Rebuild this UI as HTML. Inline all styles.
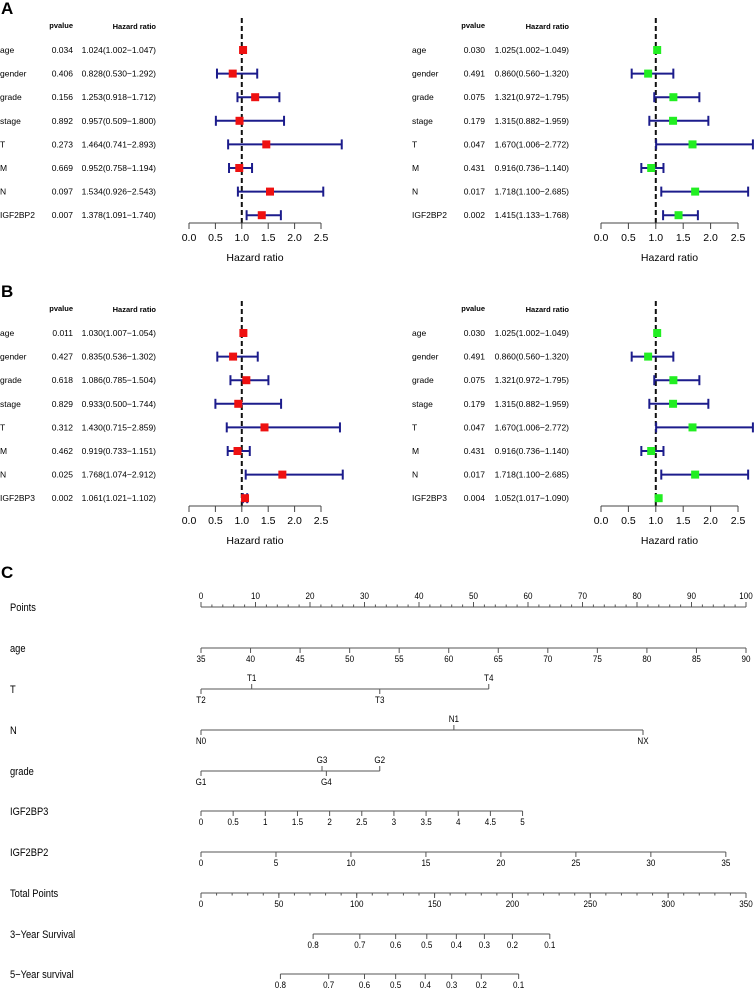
<!DOCTYPE html>
<html><head><meta charset="utf-8"><style>
body{margin:0;background:#fff;}
svg{display:block;font-family:"Liberation Sans",sans-serif;}
</style></head><body>
<svg id="fig" width="754" height="989" viewBox="0 0 754 989" xmlns="http://www.w3.org/2000/svg">
<text x="1" y="14" font-size="17" font-weight="bold">A</text>
<text x="1" y="297" font-size="17" font-weight="bold">B</text>
<text x="1" y="578" font-size="17" font-weight="bold">C</text>
<g id="forest"></g>
<g id="nomo"></g>
</svg>
<script>
const NS="http://www.w3.org/2000/svg";
function mk(p,tag,a){const e=document.createElementNS(NS,tag);for(const k in a)e.setAttribute(k,a[k]);p.appendChild(e);return e;}
function tx(p,x,y,s,fs,anchor,extra){const e=mk(p,"text",Object.assign({x:x,y:y,"font-size":fs,"text-anchor":anchor||"start"},extra||{}));e.textContent=s;return e;}

// ---- forest data ----
const varsA=["age","gender","grade","stage","T","M","N","IGF2BP2"];
const varsB=["age","gender","grade","stage","T","M","N","IGF2BP3"];
const pA1=["0.034","0.406","0.156","0.892","0.273","0.669","0.097","0.007"];
const hrA1=[1.024,0.828,1.253,0.957,1.464,0.952,1.534,1.378];
const loA1=[1.002,0.530,0.918,0.509,0.741,0.758,0.926,1.091];
const hiA1=[1.047,1.292,1.712,1.800,2.893,1.194,2.543,1.740];
const pA2=["0.030","0.491","0.075","0.179","0.047","0.431","0.017","0.002"];
const hrA2=[1.025,0.860,1.321,1.315,1.670,0.916,1.718,1.415];
const loA2=[1.002,0.560,0.972,0.882,1.006,0.736,1.100,1.133];
const hiA2=[1.049,1.320,1.795,1.959,2.772,1.140,2.685,1.768];
const pB1=["0.011","0.427","0.618","0.829","0.312","0.462","0.025","0.002"];
const hrB1=[1.030,0.835,1.086,0.933,1.430,0.919,1.768,1.061];
const loB1=[1.007,0.536,0.785,0.500,0.715,0.733,1.074,1.021];
const hiB1=[1.054,1.302,1.504,1.744,2.859,1.151,2.912,1.102];
const pB2=["0.030","0.491","0.075","0.179","0.047","0.431","0.017","0.004"];
const hrB2=[1.025,0.860,1.321,1.315,1.670,0.916,1.718,1.052];
const loB2=[1.002,0.560,0.972,0.882,1.006,0.736,1.100,1.017];
const hiB2=[1.049,1.320,1.795,1.959,2.772,1.140,2.685,1.090];
const hrTicks=[0,0.5,1,1.5,2,2.5];

function forest(name,vars,pv,hr,lo,hi,oy,o){
  const g=mk(document.getElementById("forest"),"g",{});
  
  
  const X=v=>o.x0+v*o.k;
  const Y=i=>oy+50+i*23.6;
  const fmt=v=>v.toFixed(3);
  let h=tx(g,o.pr,oy+28,"pvalue",7.5,"end",{"font-weight":"bold"});
  
  h=tx(g,o.hr,oy+29,"Hazard ratio",7.5,"end",{"font-weight":"bold"});
  
  const axY=oy+223;
  const d=mk(g,"line",{x1:X(1),x2:X(1),y1:oy+18,y2:axY,stroke:"#111","stroke-width":2,"stroke-dasharray":"5,3"});
  
  vars.forEach((v,i)=>{
    const y=Y(i);
    let t=tx(g,o.lx,y+3,v,8.5);
    
    t=tx(g,o.pr,y+3,pv[i],8.5,"end");
    
    t=tx(g,o.hr,y+3,fmt(hr[i])+"("+fmt(lo[i])+"\u2212"+fmt(hi[i])+")",8.5,"end");
    
    const eg=mk(g,"g",{stroke:"#1c1c8c","stroke-width":2});
    
    const xl=X(lo[i]),xh=Math.min(X(hi[i]),754);
    if(hi[i]-lo[i]>0.08){
      mk(eg,"line",{x1:xl,x2:xh,y1:y,y2:y});
      mk(eg,"line",{x1:xl,x2:xl,y1:y-5,y2:y+5});
      mk(eg,"line",{x1:xh,x2:xh,y1:y-5,y2:y+5});
    }
    const s=mk(g,"rect",{x:X(hr[i])-4,y:y-4,width:8,height:8,fill:o.col});
    
  });
  const ax=mk(g,"g",{});
  
  mk(ax,"line",{x1:X(0),x2:X(2.5),y1:axY,y2:axY,stroke:"#444","stroke-width":1});
  hrTicks.forEach(t=>{
    mk(ax,"line",{x1:X(t),x2:X(t),y1:axY,y2:axY+6,stroke:"#444"});
    const l=tx(ax,X(t),axY+18,t.toFixed(1),10.5,"middle");
    
  });
  const at=tx(g,X(1.25),axY+38,"Hazard ratio",10.5,"middle");
  
}
const L={x0:189,k:52.8,lx:0,pr:73,hr:156,col:"#ee1111"};
const R={x0:601,k:54.8,lx:412,pr:485,hr:569,col:"#22ee22"};
forest("forest-a-left",varsA,pA1,hrA1,loA1,hiA1,0,L);
forest("forest-a-right",varsA,pA2,hrA2,loA2,hiA2,0,R);
forest("forest-b-left",varsB,pB1,hrB1,loB1,hiB1,283,L);
forest("forest-b-right",varsB,pB2,hrB2,loB2,hiB2,283,R);

// ---- nomogram ----
const nomoRows=["Points","age","T","N","grade","IGF2BP3","IGF2BP2","Total Points","3\u2212Year Survival","5\u2212Year survival"];
const rowY=[607,648,689,730,771,811,852,893,934,974];
const ageVals=[35,40,45,50,55,60,65,70,75,80,85,90];
const igf3Vals=[0,0.5,1,1.5,2,2.5,3,3.5,4,4.5,5];
const igf2Vals=[0,5,10,15,20,25,30,35];
const totalVals=[0,50,100,150,200,250,300,350];
const tLevels=["T2","T1","T3","T4"], tPts=[0,9.3,32.8,52.8], tUp=[false,true,false,true];
const nLevels=["N0","N1","NX"], nPts=[0,46.4,81.1], nUp=[false,true,false];
const gLevels=["G1","G3","G4","G2"], gPts=[0,22.2,23,32.8], gUp=[false,true,false,true];
const surv=[0.8,0.7,0.6,0.5,0.4,0.3,0.2,0.1];
const surv3Tot=[72,102,125,145,164,182,200,224];
const surv5Tot=[51,82,105,125,144,161,180,204];
const AX0=201,AX1=746;
const P=v=>AX0+v/100*(AX1-AX0);
const TP=v=>AX0+v/350*(AX1-AX0);
const N=document.getElementById("nomo");
nomoRows.forEach((r,i)=>{
  const t=tx(N,10,rowY[i]+4,r,11,"start",{transform:"translate(10,0) scale(0.85,1) translate(-10,0)"});
  
});
function narrow(p,x,y,s,fs){return tx(p,x,y,s,fs,"middle",{transform:`translate(${x},0) scale(0.85,1) translate(${-x},0)`});}
function scale(name,y,vals,pos,labUp,minor){
  const g=mk(N,"g",{stroke:"#555"});
  
  mk(g,"line",{x1:pos(vals[0]),x2:pos(vals[vals.length-1]),y1:y,y2:y});
  if(minor)minor.forEach(v=>mk(g,"line",{x1:pos(v),x2:pos(v),y1:y,y2:labUp?y-2.5:y+2.5}));
  vals.forEach(v=>{
    mk(g,"line",{x1:pos(v),x2:pos(v),y1:y,y2:labUp?y-5:y+5});
    const t=narrow(N,pos(v),labUp?y-8:y+14,String(v),9.5);
    
  });
}
const ptsVals=[0,10,20,30,40,50,60,70,80,90,100];
const ptsMinor=[];for(let v=0;v<=100;v+=2)ptsMinor.push(v);
const totMinor=[];for(let v=0;v<=350;v+=10)totMinor.push(v);
scale("points-scale",rowY[0],ptsVals,P,true,ptsMinor);
scale("age-scale",rowY[1],ageVals,v=>P((v-35)/55*100),false);
scale("igf2bp3-scale",rowY[5],igf3Vals,v=>P(v/5*59),false);
scale("igf2bp2-scale",rowY[6],igf2Vals,v=>P(v/35*96.3),false);
scale("total-points-scale",rowY[7],totalVals,TP,false,totMinor);
function cat(name,y,levels,pts,up){
  const g=mk(N,"g",{stroke:"#555"});
  
  mk(g,"line",{x1:P(Math.min(...pts)),x2:P(Math.max(...pts)),y1:y,y2:y});
  levels.forEach((l,i)=>{
    const x=P(pts[i]);
    mk(g,"line",{x1:x,x2:x,y1:y,y2:up[i]?y-5:y+5});
    const t=narrow(N,x,up[i]?y-8:y+14,l,9.5);
    
  });
}
cat("t-scale",rowY[2],tLevels,tPts,tUp);
cat("n-scale",rowY[3],nLevels,nPts,nUp);
cat("grade-scale",rowY[4],gLevels,gPts,gUp);
function survScale(name,y,tots){
  const g=mk(N,"g",{stroke:"#555"});
  
  mk(g,"line",{x1:TP(tots[0]),x2:TP(tots[tots.length-1]),y1:y,y2:y});
  surv.forEach((s,i)=>{
    const x=TP(tots[i]);
    mk(g,"line",{x1:x,x2:x,y1:y,y2:y+5});
    const t=narrow(N,x,y+14,String(s),9.5);
    
  });
}
survScale("survival-3yr-scale",rowY[8],surv3Tot);
survScale("survival-5yr-scale",rowY[9],surv5Tot);
</script>
</body></html>
